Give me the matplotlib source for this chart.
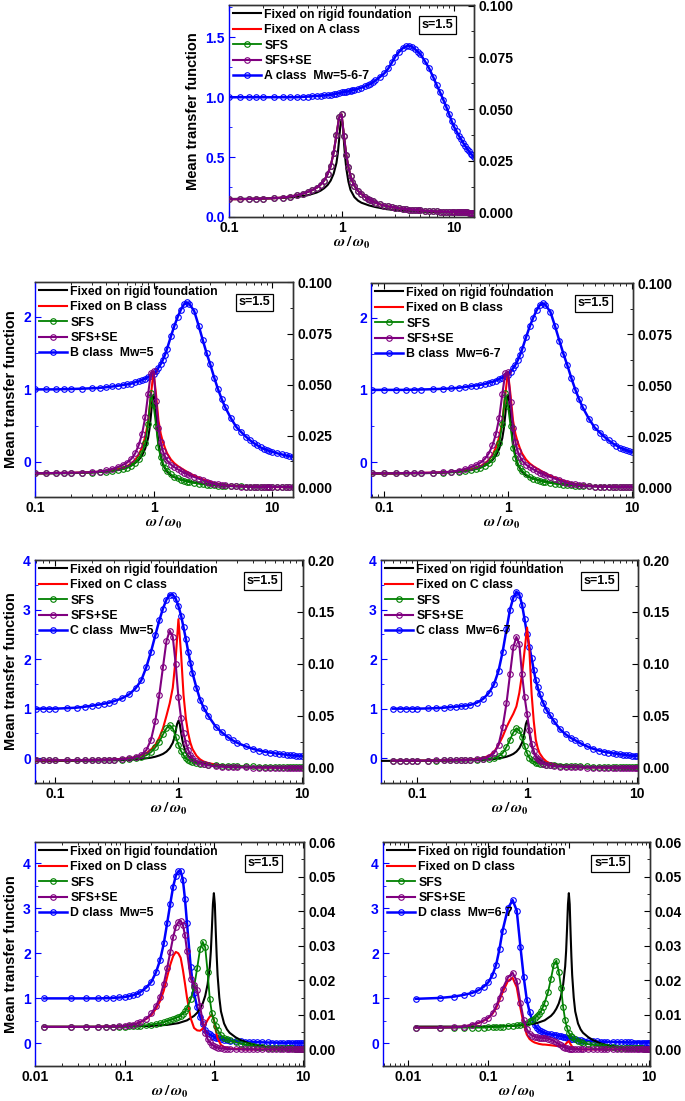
import matplotlib
matplotlib.use('Agg')
import matplotlib.pyplot as plt
from matplotlib.ticker import MultipleLocator, LogLocator, FuncFormatter, NullFormatter, FormatStrFormatter

plt.rcParams['font.family'] = ['Liberation Sans', 'DejaVu Sans']
plt.rcParams['font.weight'] = 'bold'
plt.rcParams['mathtext.fontset'] = 'stix'
plt.rcParams['axes.linewidth'] = 1.0

###############################################################################
# data (blue = left axis, everything else = right axis)
###############################################################################

# fixed on rigid foundation (same curve in every panel)
x_rigid = [0.0125, 0.05, 0.1, 0.2, 0.3, 0.4, 0.5, 0.6, 0.65, 0.7, 0.75, 0.8, 0.85, 0.9, 0.925, 0.95,
           0.975, 1.0, 1.025, 1.05, 1.075, 1.1, 1.15, 1.2, 1.3, 1.4, 1.5, 1.75, 2, 2.5, 3, 4, 5, 7, 10, 15]
y_rigid = [0.0066, 0.0066, 0.0066, 0.0068, 0.0071, 0.0076, 0.0084, 0.0097, 0.0106, 0.0118, 0.0133, 0.0155,
           0.0188, 0.0240, 0.0285, 0.0350, 0.0420, 0.0452, 0.0420, 0.0340, 0.0270, 0.0215, 0.0150, 0.0110,
           0.0075, 0.0058, 0.0048, 0.0035, 0.0027, 0.0017, 0.0012, 0.0007, 0.0005, 0.0003, 0.0002, 0.0001]

# ---- A class ----
x_a = [0.1, 0.125, 0.15, 0.175, 0.2,
       0.25, 0.3, 0.35, 0.4, 0.45, 0.5, 0.55, 0.6, 0.65, 0.7, 0.75, 0.8, 0.85, 0.9, 0.95,
       1.0, 1.05, 1.1, 1.15, 1.2, 1.25, 1.3,
       1.4, 1.5, 1.6, 1.7, 1.8, 1.9, 2.0,
       2.2, 2.4, 2.6, 2.8, 3.0,
       3.25, 3.5, 3.75, 4.0, 4.25, 4.5, 4.75, 5.0,
       5.5, 6, 6.5, 7, 7.5, 8, 8.5, 9, 9.5, 10, 10.5, 11, 11.5, 12, 12.5, 13, 13.5, 14, 14.5, 15]
y_a_blue = [1.0, 1.0, 1.0, 1.0, 1.0,
            1.0, 1.0, 1.0, 1.0, 1.003, 1.005, 1.008, 1.01, 1.012, 1.015, 1.018, 1.02, 1.024, 1.028, 1.034,
            1.04, 1.043, 1.046, 1.05, 1.055, 1.058, 1.062,
            1.07, 1.08, 1.09, 1.10, 1.11, 1.125, 1.14,
            1.17, 1.20, 1.24, 1.29, 1.34,
            1.38, 1.41, 1.425, 1.43, 1.42, 1.40, 1.38, 1.36,
            1.30, 1.24, 1.17, 1.10, 1.04, 0.98, 0.92, 0.86, 0.80, 0.75, 0.715, 0.68, 0.65, 0.62, 0.595,
            0.57, 0.55, 0.53, 0.515, 0.50]
# fixed on A, SFS and SFS+SE lie on top of each other
y_a_struct = [0.0065, 0.0065, 0.0066, 0.0067, 0.0068,
              0.0070, 0.0073, 0.0078, 0.0084, 0.0091, 0.0100, 0.0109, 0.0120, 0.0135, 0.0155, 0.0185,
              0.0225, 0.0290, 0.0375, 0.0460,
              0.0475, 0.0370, 0.0280, 0.0220, 0.0178, 0.0150, 0.0130,
              0.0105, 0.0090, 0.0078, 0.0068, 0.0060, 0.0054, 0.0048,
              0.0040, 0.0034, 0.0030, 0.0027, 0.0024,
              0.0021, 0.0019, 0.0017, 0.0015, 0.0014, 0.0013, 0.0012, 0.0011,
              0.0009, 0.0008, 0.0007, 0.0006, 0.0005, 0.0004, 0.0004, 0.0003, 0.0003, 0.0002, 0.0002,
              0.0002, 0.0001, 0.0001, 0.0001, 0.0001, 0.0, 0.0, 0.0, 0.0]

# ---- B class ----
x_b = [0.08, 0.1, 0.125, 0.15, 0.175, 0.2,
       0.25, 0.3, 0.35, 0.4, 0.45, 0.5, 0.55, 0.6, 0.65, 0.7, 0.75, 0.8, 0.85, 0.9, 0.95,
       1.0, 1.05, 1.1, 1.15, 1.2, 1.25, 1.3,
       1.4, 1.5, 1.6, 1.7, 1.8, 1.9, 2.0,
       2.2, 2.4, 2.6, 2.8, 3.0,
       3.25, 3.5, 3.75, 4.0,
       4.5, 5, 5.5, 6, 6.5, 7, 7.5, 8, 8.5, 9, 9.5, 10,
       11, 12, 13, 14, 15]
y_b_blue = [1.0, 1.0, 1.0, 1.0, 1.003, 1.005,
            1.01, 1.015, 1.02, 1.03, 1.04, 1.05, 1.06, 1.07, 1.08, 1.10, 1.11, 1.13, 1.15, 1.17, 1.19,
            1.21, 1.25, 1.30, 1.35, 1.41, 1.48, 1.56,
            1.73, 1.88, 2.00, 2.10, 2.17, 2.20, 2.18,
            2.08, 1.88, 1.68, 1.50, 1.35,
            1.16, 1.00, 0.87, 0.76,
            0.60, 0.48, 0.41, 0.35, 0.30, 0.26, 0.23, 0.20, 0.18, 0.165, 0.15, 0.14,
            0.12, 0.105, 0.09, 0.08, 0.07]
y_b_fixed = [0.0068, 0.0068, 0.0068, 0.0069, 0.0069, 0.0070,
             0.0071, 0.0073, 0.0075, 0.0078, 0.0082, 0.0087, 0.0094, 0.0103, 0.0116, 0.0133, 0.0158,
             0.0194, 0.0245, 0.0320, 0.0450,
             0.0565, 0.0450, 0.0325, 0.0260, 0.0220, 0.0190, 0.0165,
             0.0135, 0.0116, 0.0103, 0.0093, 0.0084, 0.0076, 0.0068,
             0.0056, 0.0046, 0.0038, 0.0031, 0.0026,
             0.0020, 0.0016, 0.0013, 0.0010,
             0.0007, 0.0005, 0.0004, 0.0003, 0.0002, 0.0002, 0.0002, 0.0001, 0.0001, 0.0001, 0.0001, 0.0,
             0.0, 0.0, 0.0, 0.0, 0.0]
y_b_sfs = [0.0068, 0.0068, 0.0068, 0.0068, 0.0069, 0.0069,
           0.0070, 0.0071, 0.0073, 0.0075, 0.0078, 0.0082, 0.0087, 0.0094, 0.0104, 0.0118, 0.0138,
           0.0168, 0.0215, 0.0310, 0.0460,
           0.0400, 0.0300, 0.0194, 0.0145, 0.0116, 0.0095, 0.0080,
           0.0062, 0.0049, 0.0042, 0.0036, 0.0031, 0.0027, 0.0024,
           0.0020, 0.0017, 0.0014, 0.0012, 0.0010,
           0.0008, 0.0007, 0.0006, 0.0005,
           0.0004, 0.0003, 0.0003, 0.0002, 0.0002, 0.0002, 0.0001, 0.0001, 0.0001, 0.0001, 0.0001, 0.0001,
           0.0, 0.0, 0.0, 0.0, 0.0]
y_b_sfse = [0.0068, 0.0068, 0.0068, 0.0069, 0.0069, 0.0070,
            0.0071, 0.0073, 0.0076, 0.0081, 0.0089, 0.0098, 0.0108, 0.0120, 0.0138, 0.0165, 0.0205,
            0.0260, 0.0340, 0.0455, 0.0558,
            0.0565, 0.0420, 0.0290, 0.0220, 0.0175, 0.0150, 0.0130,
            0.0110, 0.0097, 0.0087, 0.0079, 0.0071, 0.0064, 0.0058,
            0.0049, 0.0041, 0.0034, 0.0027, 0.0021,
            0.0016, 0.0013, 0.0010, 0.0008,
            0.0005, 0.0003, 0.0002, 0.0002, 0.0001, 0.0001, 0.0001, 0.0, 0.0, 0.0, 0.0, 0.0,
            0.0, 0.0, 0.0, 0.0, 0.0]

# ---- C class ----
x_c = [0.06, 0.07, 0.08, 0.09, 0.1,
       0.125, 0.15, 0.175, 0.2, 0.225, 0.25, 0.275, 0.3,
       0.35, 0.4, 0.45, 0.5, 0.55, 0.6, 0.65, 0.7, 0.75, 0.8, 0.85, 0.9, 0.95, 1.0,
       1.05, 1.1, 1.15, 1.2, 1.25,
       1.3, 1.4, 1.5, 1.6, 1.75,
       2, 2.25, 2.5, 2.75, 3,
       3.5, 4, 4.5, 5, 5.5, 6, 6.5, 7, 7.5, 8, 8.5, 9, 9.5, 10]
y_c5_blue = [1.0, 1.0, 1.0, 1.0, 1.0,
             1.01, 1.02, 1.04, 1.06, 1.08, 1.10, 1.12, 1.15,
             1.21, 1.29, 1.41, 1.57, 1.84, 2.15, 2.48, 2.78, 3.02, 3.20, 3.30, 3.30, 3.22, 3.07,
             2.88, 2.64, 2.40, 2.15, 1.93,
             1.72, 1.42, 1.18, 1.02, 0.85,
             0.64, 0.52, 0.43, 0.36, 0.31,
             0.24, 0.19, 0.155, 0.13, 0.115, 0.10, 0.09, 0.08, 0.07, 0.06, 0.055, 0.05, 0.045, 0.04]
y_c5_fixed = [0.0070, 0.0070, 0.0070, 0.0070, 0.0071,
              0.0072, 0.0073, 0.0074, 0.0075, 0.0076, 0.0078, 0.0079, 0.0081,
              0.0085, 0.0092, 0.0102, 0.0118, 0.0140, 0.0175, 0.0220, 0.0290, 0.0380, 0.0500, 0.0620,
              0.0770, 0.1050, 0.1430,
              0.1100, 0.0700, 0.0470, 0.0330, 0.0240,
              0.0180, 0.0115, 0.0080, 0.0060, 0.0045,
              0.0030, 0.0022, 0.0016, 0.0012, 0.0010,
              0.0007, 0.0005, 0.0004, 0.0003, 0.0002, 0.0002, 0.0002, 0.0001, 0.0001, 0.0001, 0.0001,
              0.0, 0.0, 0.0]
y_c5_sfs = [0.0070, 0.0070, 0.0070, 0.0070, 0.0070,
            0.0071, 0.0071, 0.0072, 0.0072, 0.0072, 0.0073, 0.0074, 0.0075,
            0.0078, 0.0083, 0.0090, 0.0100, 0.0120, 0.0150, 0.0195, 0.0250, 0.0320, 0.0380, 0.0410,
            0.0380, 0.0300, 0.0220,
            0.0160, 0.0120, 0.0090, 0.0075, 0.0064,
            0.0055, 0.0045, 0.0038, 0.0033, 0.0028,
            0.0023, 0.0020, 0.0018, 0.0016, 0.0015,
            0.0013, 0.0012, 0.0011, 0.0011, 0.0010, 0.0010, 0.0010, 0.0009, 0.0009, 0.0009, 0.0009,
            0.0008, 0.0008, 0.0008]
y_c5_sfse = [0.0072, 0.0072, 0.0072, 0.0072, 0.0072,
             0.0072, 0.0073, 0.0073, 0.0074, 0.0075, 0.0076, 0.0077, 0.0079,
             0.0083, 0.0090, 0.0100, 0.0125, 0.0170, 0.0270, 0.0450, 0.0700, 0.0970, 0.1220, 0.1320,
             0.1260, 0.1000, 0.0680,
             0.0480, 0.0330, 0.0240, 0.0170, 0.0125,
             0.0095, 0.0065, 0.0045, 0.0032, 0.0022,
             0.0012, 0.0009, 0.0006, 0.0005, 0.0004,
             0.0003, 0.0002, 0.0001, 0.0001, 0.0001, 0.0, 0.0, 0.0, 0.0, 0.0, 0.0, 0.0, 0.0, 0.0]
y_c67_blue = [1.0, 1.0, 1.0, 1.0, 1.0,
              1.005, 1.01, 1.02, 1.03, 1.04, 1.05, 1.06, 1.07,
              1.12, 1.20, 1.32, 1.49, 1.76, 2.15, 2.60, 3.00, 3.24, 3.36, 3.30, 3.10, 2.80, 2.50,
              2.25, 2.02, 1.78, 1.57, 1.43,
              1.30, 1.12, 0.98, 0.88, 0.75,
              0.58, 0.48, 0.41, 0.36, 0.31,
              0.24, 0.19, 0.155, 0.13, 0.115, 0.10, 0.09, 0.08, 0.07, 0.06, 0.055, 0.05, 0.045, 0.04]
y_c67_fixed = [0.0068, 0.0068, 0.0068, 0.0068, 0.0069,
               0.0070, 0.0071, 0.0072, 0.0073, 0.0074, 0.0076, 0.0077, 0.0078,
               0.0085, 0.0095, 0.0115, 0.0150, 0.0220, 0.0300, 0.0390, 0.0460, 0.0520, 0.0590, 0.0720,
               0.0900, 0.1130, 0.1350,
               0.1130, 0.0710, 0.0450, 0.0270, 0.0190,
               0.0140, 0.0090, 0.0060, 0.0045, 0.0035,
               0.0020, 0.0014, 0.0010, 0.0008, 0.0006,
               0.0004, 0.0003, 0.0003, 0.0002, 0.0002, 0.0002, 0.0001, 0.0001, 0.0001, 0.0001,
               0.0, 0.0, 0.0, 0.0]
y_c67_sfs = [0.0068, 0.0068, 0.0068, 0.0068, 0.0068,
             0.0069, 0.0069, 0.0070, 0.0070, 0.0070, 0.0071, 0.0071, 0.0072,
             0.0075, 0.0080, 0.0085, 0.0092, 0.0110, 0.0140, 0.0200, 0.0270, 0.0340, 0.0380, 0.0360,
             0.0300, 0.0210, 0.0140,
             0.0095, 0.0072, 0.0060, 0.0050, 0.0045,
             0.0040, 0.0035, 0.0030, 0.0027, 0.0024,
             0.0020, 0.0018, 0.0016, 0.0014, 0.0013,
             0.0012, 0.0011, 0.0010, 0.0010, 0.0009, 0.0009, 0.0009, 0.0008, 0.0008, 0.0008, 0.0008,
             0.0007, 0.0007, 0.0007]
y_c67_sfse = [0.0068, 0.0068, 0.0068, 0.0068, 0.0069,
              0.0069, 0.0070, 0.0071, 0.0072, 0.0073, 0.0074, 0.0075, 0.0076,
              0.0080, 0.0088, 0.0105, 0.0138, 0.0220, 0.0390, 0.0620, 0.0900, 0.1160, 0.1260, 0.1190,
              0.0900, 0.0680, 0.0520,
              0.0360, 0.0230, 0.0160, 0.0106, 0.0080,
              0.0060, 0.0040, 0.0030, 0.0022, 0.0015,
              0.0010, 0.0007, 0.0005, 0.0004, 0.0003,
              0.0002, 0.0001, 0.0001, 0.0001, 0.0, 0.0, 0.0, 0.0, 0.0, 0.0, 0.0, 0.0, 0.0, 0.0]

# ---- D class ----
x_d = [0.0125, 0.025, 0.0375, 0.05, 0.0625, 0.075, 0.0875, 0.1, 0.1125, 0.125, 0.1375, 0.15,
       0.175, 0.2, 0.225, 0.25, 0.275, 0.3, 0.325, 0.35, 0.375, 0.4, 0.425, 0.45, 0.475, 0.5,
       0.55, 0.6, 0.65, 0.7, 0.75, 0.8, 0.85, 0.9, 0.95, 1.0, 1.05, 1.1,
       1.2, 1.3, 1.4, 1.5, 1.75, 2, 2.25, 2.5, 2.75, 3, 3.5, 4,
       4.5, 5, 5.5, 6, 6.5, 7, 7.5, 8, 8.5, 9, 9.5, 10]
y_d5_blue = [1.0, 1.0, 1.0, 1.0, 1.005, 1.01, 1.02, 1.03, 1.05, 1.07, 1.10, 1.14,
             1.24, 1.37, 1.58, 1.85, 2.22, 2.67, 3.10, 3.48, 3.72, 3.82, 3.82, 3.63, 3.20, 2.67,
             1.70, 1.11, 0.80, 0.59, 0.43, 0.30, 0.24, 0.20, 0.17, 0.15, 0.13, 0.12,
             0.10, 0.085, 0.075, 0.065, 0.055, 0.045, 0.04, 0.035, 0.03, 0.028, 0.025, 0.022,
             0.02, 0.018, 0.016, 0.015, 0.014, 0.013, 0.012, 0.012, 0.011, 0.011, 0.01, 0.01]
y_d5_fixed = [0.0065, 0.0065, 0.0065, 0.0065, 0.0066, 0.0066, 0.0067, 0.0068, 0.0070, 0.0072, 0.0075,
              0.0079,
              0.0088, 0.0100, 0.0118, 0.0140, 0.0170, 0.0210, 0.0245, 0.0270, 0.0282, 0.0278, 0.0265,
              0.0230, 0.0190, 0.0150,
              0.0090, 0.0062, 0.0055, 0.0054, 0.0060, 0.0072, 0.0085, 0.0095, 0.0100, 0.0085, 0.0055,
              0.0032,
              0.0013, 0.0007, 0.0005, 0.0003, 0.0001, 0.0001, 0.0, 0.0, 0.0, 0.0, 0.0, 0.0,
              0.0, 0.0, 0.0, 0.0, 0.0, 0.0, 0.0, 0.0, 0.0, 0.0, 0.0, 0.0]
y_d5_sfs = [0.0065, 0.0065, 0.0065, 0.0065, 0.0065, 0.0065, 0.0066, 0.0066, 0.0067, 0.0067, 0.0068,
            0.0068,
            0.0070, 0.0072, 0.0074, 0.0076, 0.0079, 0.0082, 0.0085, 0.0088, 0.0091, 0.0094, 0.0098,
            0.0103, 0.0110, 0.0120,
            0.0145, 0.0180, 0.0235, 0.0290, 0.0311, 0.0295, 0.0225, 0.0145, 0.0105, 0.0085, 0.0068,
            0.0056,
            0.0041, 0.0034, 0.0030, 0.0027, 0.0021, 0.0017, 0.0014, 0.0012, 0.0010, 0.0008, 0.0007,
            0.0005,
            0.0005, 0.0004, 0.0004, 0.0003, 0.0003, 0.0003, 0.0003, 0.0002, 0.0002, 0.0002, 0.0002,
            0.0002]
y_d5_sfse = [0.0065, 0.0065, 0.0065, 0.0065, 0.0066, 0.0066, 0.0067, 0.0068, 0.0070, 0.0072, 0.0075,
             0.0079,
             0.0089, 0.0104, 0.0125, 0.0152, 0.0190, 0.0235, 0.0282, 0.0325, 0.0355, 0.0368, 0.0372,
             0.0360, 0.0330, 0.0285,
             0.0205, 0.0186, 0.0172, 0.0125, 0.0080, 0.0048, 0.0030, 0.0020, 0.0014, 0.0010, 0.0007,
             0.0005,
             0.0003, 0.0002, 0.0001, 0.0001, 0.0, 0.0, 0.0, 0.0, 0.0, 0.0, 0.0, 0.0,
             0.0, 0.0, 0.0, 0.0, 0.0, 0.0, 0.0, 0.0, 0.0, 0.0, 0.0, 0.0]
y_d67_blue = [0.99, 1.01, 1.04, 1.08, 1.12, 1.18, 1.26, 1.36, 1.52, 1.75, 2.10, 2.50,
              3.00, 3.18, 2.95, 2.15, 1.47, 0.97, 0.70, 0.52, 0.41, 0.34, 0.30, 0.27, 0.25, 0.23,
              0.21, 0.20, 0.19, 0.18, 0.17, 0.16, 0.15, 0.14, 0.13, 0.12, 0.11, 0.10,
              0.09, 0.08, 0.07, 0.065, 0.055, 0.05, 0.045, 0.04, 0.038, 0.035, 0.032, 0.03,
              0.028, 0.025, 0.024, 0.022, 0.021, 0.02, 0.02, 0.02, 0.02, 0.02, 0.02, 0.02]
y_d67_fixed = [0.0063, 0.0063, 0.0064, 0.0066, 0.0071, 0.0076, 0.0083, 0.0091, 0.0103, 0.0120, 0.0143,
               0.0165,
               0.0198, 0.0207, 0.0180, 0.0120, 0.0072, 0.0043, 0.0030, 0.0024, 0.0020, 0.0018, 0.0016,
               0.0015, 0.0014, 0.0014,
               0.0013, 0.0012, 0.0011, 0.0010, 0.0010, 0.0010, 0.0011, 0.0014, 0.0020, 0.0024, 0.0015,
               0.0008,
               0.0003, 0.0001, 0.0, 0.0, 0.0, 0.0, 0.0, 0.0, 0.0, 0.0, 0.0, 0.0,
               0.0, 0.0, 0.0, 0.0, 0.0, 0.0, 0.0, 0.0, 0.0, 0.0, 0.0, 0.0]
y_d67_sfs = [0.0063, 0.0063, 0.0063, 0.0063, 0.0063, 0.0063, 0.0063, 0.0064, 0.0064, 0.0065, 0.0065,
             0.0066,
             0.0067, 0.0068, 0.0070, 0.0072, 0.0074, 0.0077, 0.0081, 0.0085, 0.0090, 0.0096, 0.0103,
             0.0110, 0.0122, 0.0135,
             0.0165, 0.0205, 0.0245, 0.0257, 0.0225, 0.0178, 0.0122, 0.0085, 0.0062, 0.0048, 0.0040,
             0.0035,
             0.0029, 0.0025, 0.0022, 0.0019, 0.0015, 0.0013, 0.0011, 0.0010, 0.0008, 0.0007, 0.0006,
             0.0005,
             0.0004, 0.0004, 0.0003, 0.0003, 0.0003, 0.0003, 0.0003, 0.0003, 0.0002, 0.0002, 0.0002,
             0.0002]
y_d67_sfse = [0.0063, 0.0063, 0.0064, 0.0066, 0.0072, 0.0077, 0.0084, 0.0092, 0.0105, 0.0125, 0.0150,
              0.0175,
              0.0208, 0.0222, 0.0198, 0.0135, 0.0085, 0.0058, 0.0046, 0.0040, 0.0037, 0.0035, 0.0034,
              0.0034, 0.0033, 0.0033,
              0.0031, 0.0028, 0.0024, 0.0020, 0.0016, 0.0012, 0.0008, 0.0005, 0.0003, 0.0002, 0.0001,
              0.0001,
              0.0, 0.0, 0.0, 0.0, 0.0, 0.0, 0.0, 0.0, 0.0, 0.0, 0.0, 0.0,
              0.0, 0.0, 0.0, 0.0, 0.0, 0.0, 0.0, 0.0, 0.0, 0.0, 0.0, 0.0]

###############################################################################

W, H = 685, 1101
fig = plt.figure(figsize=(W / 100.0, H / 100.0), dpi=100)

BLUE = '#0000ff'
GREEN = '#008000'
PURPLE = '#800080'
RED = '#ff0000'
SPINE = '#333333'
MS = 4.0


def fmt_x(v, p):
    return '%g' % v


def panel(px, xlim, lylim, lmaj, lfmt, rylim, rmaj, rfmt, xs, blue, fixed, sfs, sfse,
          soil_label, blue_label, ylabel=True):
    l, t, r, b = px
    ax = fig.add_axes([l / W, 1 - b / H, (r - l) / W, (b - t) / H])
    ax2 = ax.twinx()

    hb, = ax.plot(xs, blue, color=BLUE, lw=1.8, marker='o', ms=MS, mfc='none', mew=0.8)
    hk, = ax2.plot(x_rigid, y_rigid, color='black', lw=1.5)
    hr, = ax2.plot(xs, fixed, color=RED, lw=1.5)
    hg, = ax2.plot(xs, sfs, color=GREEN, lw=1.3, marker='o', ms=MS, mfc='none', mew=0.8)
    hp, = ax2.plot(xs, sfse, color=PURPLE, lw=1.5, marker='o', ms=MS, mfc='none', mew=0.8)

    ax.set_xscale('log')
    ax.set_xlim(xlim)
    ax.set_ylim(lylim)
    ax2.set_ylim(rylim)

    ax.xaxis.set_major_locator(LogLocator(base=10))
    ax.xaxis.set_minor_locator(LogLocator(base=10, subs=range(2, 10)))
    ax.xaxis.set_major_formatter(FuncFormatter(fmt_x))
    ax.xaxis.set_minor_formatter(NullFormatter())

    ax.yaxis.set_major_locator(MultipleLocator(lmaj))
    ax.yaxis.set_minor_locator(MultipleLocator(lmaj / 2.0))
    ax.yaxis.set_major_formatter(FormatStrFormatter(lfmt))
    ax2.yaxis.set_major_locator(MultipleLocator(rmaj))
    ax2.yaxis.set_minor_locator(MultipleLocator(rmaj / 2.0))
    ax2.yaxis.set_major_formatter(FormatStrFormatter(rfmt))

    ax.tick_params(which='both', direction='in', top=True, labelsize=10, pad=3)
    ax.tick_params(which='major', length=4)
    ax.tick_params(which='minor', length=2)
    ax.tick_params(axis='y', which='both', colors=BLUE)
    ax2.tick_params(which='both', direction='in', labelsize=10, colors='black', pad=3)
    ax2.tick_params(which='major', length=4)
    ax2.tick_params(which='minor', length=2)

    for s in ['top', 'bottom', 'right']:
        ax.spines[s].set_color(SPINE)
        ax2.spines[s].set_color(SPINE)
    ax.spines['left'].set_color(BLUE)
    ax2.spines['left'].set_visible(False)

    ax.set_xlabel(r'$\omega\,/\,\omega_0$', fontsize=11, labelpad=0)
    if ylabel:
        ax.set_ylabel('Mean transfer function', fontsize=10.5, fontweight='bold', labelpad=4)

    ax2.legend([hk, hr, hg, hp, hb],
               ['Fixed on rigid foundation', 'Fixed on %s class' % soil_label, 'SFS', 'SFS+SE',
                blue_label],
               loc='upper left', bbox_to_anchor=(0.0, 1.0), frameon=False, fontsize=8.8,
               handlelength=2.3, handletextpad=0.3, labelspacing=0.28, borderaxespad=0.1,
               borderpad=0.2, numpoints=1)
    ax2.text(0.85, 0.905, 's=1.5', transform=ax2.transAxes, ha='center', va='center',
             fontsize=9, fontweight='bold',
             bbox=dict(boxstyle='square,pad=0.22', fc='white', ec='black', lw=0.9))
    return ax, ax2


# A class
panel((229, 5, 474, 217), (0.1, 15), (0, 1.77), 0.5, '%.1f', (-0.0021, 0.1003), 0.025, '%.3f',
      x_a, y_a_blue, y_a_struct, y_a_struct, y_a_struct, 'A', 'A class  Mw=5-6-7')

# B class
panel((35, 282, 293, 497), (0.1, 15), (-0.483, 2.48), 1, '%d', (-0.00485, 0.1002), 0.025, '%.3f',
      x_b, y_b_blue, y_b_fixed, y_b_sfs, y_b_sfse, 'B', 'B class  Mw=5')
panel((371, 283, 633, 497), (0.0786, 10.2), (-0.483, 2.48), 1, '%d', (-0.00485, 0.1002), 0.025, '%.3f',
      x_b, y_b_blue, y_b_fixed, y_b_sfs, y_b_sfse, 'B', 'B class  Mw=6-7', ylabel=False)

# C class
panel((35, 560, 303, 783), (0.069, 10.2), (-0.5, 4.0), 1, '%d', (-0.0147, 0.2), 0.05, '%.2f',
      x_c, y_c5_blue, y_c5_fixed, y_c5_sfs, y_c5_sfse, 'C', 'C class  Mw=5')
panel((381, 560, 638, 783), (0.047, 10.2), (-0.5, 4.0), 1, '%d', (-0.0147, 0.2), 0.05, '%.2f',
      x_c, y_c67_blue, y_c67_fixed, y_c67_sfs, y_c67_sfse, 'C', 'C class  Mw=6-7', ylabel=False)

# D class
panel((35, 842, 304, 1066), (0.00995, 10.2), (-0.5, 4.47), 1, '%d', (-0.0048, 0.06), 0.01, '%.2f',
      x_d, y_d5_blue, y_d5_fixed, y_d5_sfs, y_d5_sfse, 'D', 'D class  Mw=5')
panel((383, 842, 650, 1066), (0.0049, 10.2), (-0.5, 4.47), 1, '%d', (-0.0048, 0.06), 0.01, '%.2f',
      x_d, y_d67_blue, y_d67_fixed, y_d67_sfs, y_d67_sfse, 'D', 'D class  Mw=6-7', ylabel=False)

fig.savefig('out.png', dpi=100)
